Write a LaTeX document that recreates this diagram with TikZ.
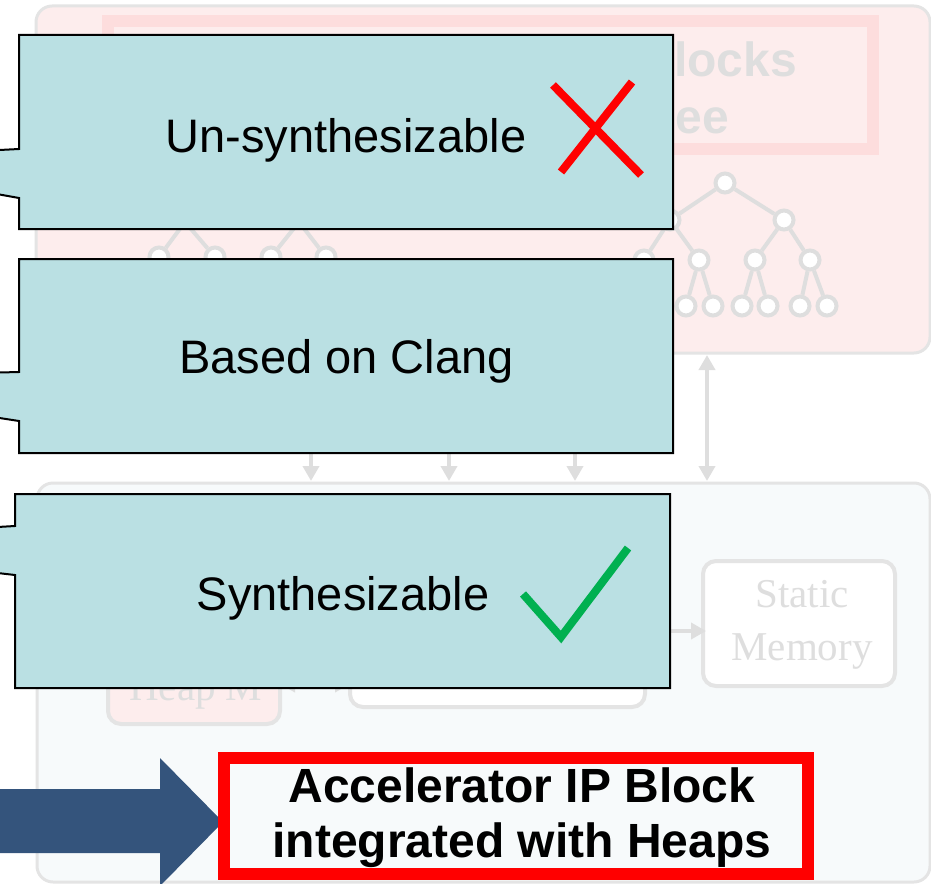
\documentclass[tikz,border=0pt]{standalone}
\usepackage{fontspec}
\setmainfont{Liberation Sans}
\newfontfamily\fadeserif{Liberation Serif}
\usetikzlibrary{arrows.meta}

\definecolor{calloutfill}{RGB}{186,224,227}
\definecolor{pinkbg}{RGB}{253,237,237}
\definecolor{pinkband}{RGB}{253,221,221}
\definecolor{fadegrey}{RGB}{222,222,222}
\definecolor{edgegrey}{RGB}{228,228,228}
\definecolor{palebg}{RGB}{247,250,251}
\definecolor{navyarrow}{RGB}{52,84,124}
\definecolor{okgreen}{RGB}{0,176,80}

\tikzset{
  panel/.style={draw=edgegrey, line width=3pt, rounded corners=16pt},
  fadebox/.style={draw=edgegrey, line width=4pt, rounded corners=13pt, inner sep=0pt},
  treenode/.style={circle, draw=fadegrey, line width=4pt, fill=white,
    minimum size=19pt, inner sep=0pt},
  treeedge/.style={draw=fadegrey, line width=4pt},
  fadearrow/.style={draw=fadegrey, line width=4.5pt,
    -{Triangle[length=15pt,width=16pt]}},
  fadearrowboth/.style={draw=fadegrey, line width=4.5pt,
    {Triangle[length=15pt,width=16pt]}-{Triangle[length=15pt,width=16pt]}},
  callout/.style={fill=calloutfill, draw=black, line width=2pt, line join=miter},
  calltext/.style={inner sep=0pt, anchor=base,
    font=\fontsize{47pt}{56pt}\selectfont},
  fadetitle/.style={inner sep=0pt, text=fadegrey,
    font=\fontsize{48pt}{56pt}\selectfont\bfseries},
  fadelabel/.style={inner sep=0pt, anchor=base, text=fadegrey,
    font=\fontsize{41pt}{50pt}\selectfont\fadeserif},
  resulttext/.style={inner sep=0pt, anchor=base,
    font=\fontsize{48pt}{56pt}\selectfont\bfseries},
}

\begin{document}
\begin{tikzpicture}[x=1pt, y=-1pt]
\useasboundingbox (0,0) rectangle (931,883);
\clip (0,0) rectangle (931,883);

% ---------- upper panel: IP blocks and the tree ----------
\path[panel, fill=pinkbg] (36,6) rectangle (930,353);
\path[draw=pinkband, line width=12pt, fill=pinkbg] (108,21) rectangle (873,149);
\node[fadetitle, anchor=base east] (blk) at (797,77) {Blocks};
\node[fadetitle, anchor=base east] (tre) at (729,133) {Tree};

% right tree
\node[treenode] (r0) at (725,183) {};
\node[treenode] (r1) at (670,220) {};
\node[treenode] (r2) at (784,220) {};
\node[treenode] (r11) at (644,260) {};
\node[treenode] (r12) at (699,260) {};
\node[treenode] (r21) at (755,260) {};
\node[treenode] (r22) at (810,260) {};
\node[treenode] (r121) at (686,306) {};
\node[treenode] (r122) at (713,306) {};
\node[treenode] (r211) at (742,306) {};
\node[treenode] (r212) at (768,306) {};
\node[treenode] (r221) at (800,306) {};
\node[treenode] (r222) at (827,306) {};
\foreach \a/\b in {r0/r1, r0/r2, r1/r11, r1/r12, r2/r21, r2/r22,
                   r12/r121, r12/r122, r21/r211, r21/r212, r22/r221, r22/r222}
  \path[treeedge] (\a) -- (\b);

% left trees
\coordinate (lp1) at (185,222);
\coordinate (lp2) at (299,222);
\node[treenode] (l11) at (159,257) {};
\node[treenode] (l12) at (215,257) {};
\node[treenode] (l21) at (271,257) {};
\node[treenode] (l22) at (326,257) {};
\foreach \a/\b in {lp1/l11, lp1/l12, lp2/l21, lp2/l22}
  \path[treeedge] (\a) -- (\b);

% ---------- lower panel: accelerator ----------
\path[panel, fill=palebg] (37,483) rectangle (930,882);

\node[fadebox, fill=pinkbg, minimum width=172pt, minimum height=84pt] (heap) at (194,682) {};
\node[fadelabel, anchor=base west] (heaptxt) at (129,700) {Heap M};
\node[fadebox, fill=white, minimum width=295pt, minimum height=107pt] (core) at (497.5,653.5) {};
\node[fadebox, fill=white, minimum width=192pt, minimum height=125pt] (smem) at (799,623.5) {};
\node[fadelabel] (smem1) at (802,607) {Static};
\node[fadelabel] (smem2) at (802,660) {Memory};

\coordinate (ha) at (280,684);
\coordinate (hb) at (350,684);
\path[fadearrowboth] (ha) -- (hb);

% connectors between the panels
\coordinate (s1) at (311,440); \coordinate (e1) at (311,481);
\coordinate (s2) at (449,440); \coordinate (e2) at (449,481);
\coordinate (s3) at (575,440); \coordinate (e3) at (575,481);
\coordinate (s4) at (707,355); \coordinate (e4) at (707,481);
\path[fadearrow] (s1) -- (e1);
\path[fadearrow] (s2) -- (e2);
\path[fadearrow] (s3) -- (e3);
\path[fadearrowboth] (s4) -- (e4);
\coordinate (ms) at (660,631);
\coordinate (me) at (706,631);
\path[fadearrow] (ms) -- (me);

% ---------- callouts ----------
\path[callout] (19,35) -- (673,35) -- (673,229) -- (19,229) -- (19,198)
  -- (-20,191) -- (-20,151) -- (19,149) -- cycle;
\node[calltext] (c1) at (346,152) {Un-synthesizable};
\draw[red, line width=8pt] (553,85) -- (641,175);
\draw[red, line width=8pt] (632,82) -- (561,172);

\path[callout] (19,259) -- (673,259) -- (673,453) -- (19,453) -- (19,421)
  -- (-20,415) -- (-20,373) -- (19,372) -- cycle;
\node[calltext] (c2) at (346.5,373) {Based on Clang};

\path[callout] (15,494) -- (670,494) -- (670,688) -- (15,688) -- (15,575)
  -- (-20,571) -- (-20,528) -- (15,526) -- cycle;
\node[calltext] (c3) at (343,610) {Synthesizable};
\draw[okgreen, line width=8pt, line join=miter] (523,594) -- (561,637) -- (628,548);

% ---------- result ----------
\path[fill=navyarrow] (-5,789) -- (160,789) -- (160,758) -- (223,822)
  -- (160,886) -- (160,853) -- (-5,853) -- cycle;
\path[draw=red, line width=12pt, fill=palebg] (224,758) rectangle (808,874);
\node[resulttext] (res1) at (522,802) {Accelerator IP Block};
\node[resulttext] (res2) at (522,857) {integrated with Heaps};
\end{tikzpicture}
\end{document}
